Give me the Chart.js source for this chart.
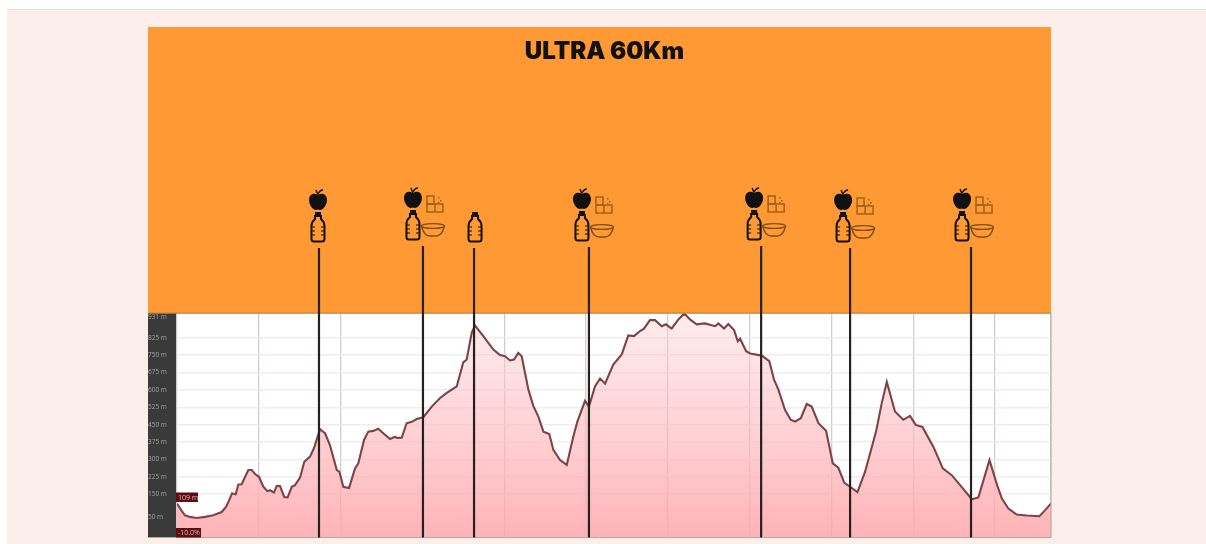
<!DOCTYPE html>
<html lang="en">
<head>
    <meta charset="UTF-8">
    <title>ULTRA 60Km</title>
    <script src="https://cdn.jsdelivr.net/npm/chart.js"></script>
    <style>
        html, body {
            margin: 0;
            padding: 0;
            background: #ffffff;
            overflow: hidden;
        }
        .page {
            position: absolute;
            left: 7px;
            top: 9px;
            width: 1199px;
            height: 535px;
            background: #fcefeb;
            border-top: 1px solid #eaded9;
            box-sizing: border-box;
        }
        #profile {
            position: absolute;
            left: 0;
            top: 0;
            filter: blur(0.45px);
        }
    </style>
</head>
<body>
    <div class="page"></div>
    <canvas id="profile" width="1206" height="544"></canvas>

    <script>
        const titleText = 'ULTRA 60Km';
        const gradeText = '-10.0%';

        // distance in km along the course
        const distance = [
            0.0, 0.29, 0.49, 0.80, 1.21, 1.72, 2.22, 2.74, 3.00, 3.20,
            3.37, 3.60, 3.76, 3.96, 4.37, 4.58, 4.78, 5.02, 5.29, 5.53,
            5.70, 5.94, 6.11, 6.31, 6.57, 6.78, 7.03, 7.23, 7.54, 7.80,
            8.15, 8.39, 8.76, 9.07, 9.37, 9.79, 9.95, 10.19, 10.54, 10.91,
            11.11, 11.46, 11.72, 12.03, 12.33, 12.64, 13.05, 13.36, 13.46, 13.77,
            14.07, 14.38, 14.69, 15.09, 15.61, 16.12, 16.53, 17.14, 17.54, 17.75,
            18.06, 18.26, 18.77, 19.38, 19.79, 20.10, 20.40, 20.65, 20.91, 21.12,
            21.53, 21.83, 22.14, 22.45, 22.81, 23.06, 23.47, 23.88, 24.28, 24.53,
            25.00, 25.24, 25.61, 25.92, 26.23, 26.73, 27.25, 27.65, 28.00, 28.37,
            28.61, 28.98, 29.29, 29.70, 29.95, 30.31, 30.72, 31.08, 31.43, 31.84,
            32.35, 32.97, 33.17, 33.52, 33.78, 34.13, 34.36, 34.50, 34.87, 35.11,
            35.83, 36.29, 36.58, 36.85, 37.25, 37.60, 37.87, 38.22, 38.58, 38.89,
            39.30, 39.77, 40.18, 40.52, 40.89, 41.24, 41.69, 42.16, 42.83, 43.18,
            43.49, 43.99, 44.50, 44.91, 45.26, 45.67, 46.34, 46.92, 47.47, 47.98,
            48.70, 49.10, 49.78, 50.27, 50.54, 50.94, 51.45, 52.07, 52.84, 53.19,
            53.54
        ];

        // elevation in metres at each distance
        const elevation = [
            109, 78, 59, 52, 47, 52, 59, 73, 95, 124,
            153, 150, 192, 193, 254, 254, 237, 225, 182, 163,
            167, 157, 186, 185, 138, 136, 182, 189, 222, 290,
            312, 348, 430, 413, 362, 254, 247, 182, 177, 261,
            283, 384, 420, 423, 432, 413, 388, 398, 393, 394,
            456, 462, 474, 482, 528, 565, 587, 615, 719, 731,
            847, 878, 832, 774, 750, 745, 727, 731, 760, 745,
            601, 531, 485, 420, 410, 341, 297, 276, 398, 463,
            553, 528, 615, 649, 627, 709, 753, 835, 832, 854,
            864, 901, 901, 875, 883, 865, 904, 930, 904, 883,
            887, 875, 887, 865, 884, 858, 810, 821, 767, 757,
            748, 724, 644, 601, 514, 471, 463, 478, 539, 528,
            456, 424, 283, 264, 199, 182, 159, 247, 420, 543,
            634, 507, 471, 488, 449, 440, 355, 261, 232, 189,
            128, 136, 297, 185, 131, 88, 62, 58, 55, 81,
            109
        ];

        const elevationTicks = [50, 150, 225, 300, 375, 450, 525, 600, 675, 750, 825, 931];

        // aid stations
        const stationKm = [8.70, 15.07, 18.20, 25.24, 35.79, 41.24, 48.65];
        const stationFood = ['fruit', 'full', 'water', 'full', 'full', 'full', 'full'];

        // icons are not quite lined up with their poles
        const iconShift = [-1, -10, 1, -7, -7, -7, -9];
        const iconLift = [0, 2, 0, 1, 2, 0, 1];
        const orange = '#ff9933';

        function drawApple(ctx, x, y) {
            ctx.fillStyle = '#111111';
            ctx.beginPath();
            ctx.moveTo(x, y - 6);
            ctx.bezierCurveTo(x + 5, y - 9, x + 9, y - 6, x + 9, y - 1);
            ctx.bezierCurveTo(x + 9, y + 4, x + 5, y + 9, x + 2, y + 9);
            ctx.quadraticCurveTo(x, y + 8, x - 2, y + 9);
            ctx.bezierCurveTo(x - 5, y + 9, x - 9, y + 4, x - 9, y - 1);
            ctx.bezierCurveTo(x - 9, y - 6, x - 5, y - 9, x, y - 6);
            ctx.fill();
            // leaf
            ctx.strokeStyle = '#111111';
            ctx.lineWidth = 1.4;
            ctx.beginPath();
            ctx.moveTo(x, y - 6);
            ctx.lineTo(x - 2, y - 11);
            ctx.moveTo(x, y - 7);
            ctx.quadraticCurveTo(x + 2, y - 11, x + 5, y - 11);
            ctx.stroke();
        }

        function drawBottle(ctx, x, top) {
            ctx.strokeStyle = '#111111';
            ctx.fillStyle = '#111111';
            ctx.fillRect(x - 3, top, 6, 4);
            ctx.lineWidth = 2;
            ctx.beginPath();
            ctx.moveTo(x - 3, top + 4);
            ctx.lineTo(x - 3, top + 7);
            ctx.quadraticCurveTo(x - 6.5, top + 10, x - 6.5, top + 14);
            ctx.lineTo(x - 6.5, top + 27);
            ctx.quadraticCurveTo(x - 6.5, top + 29.5, x - 4, top + 29.5);
            ctx.lineTo(x + 4, top + 29.5);
            ctx.quadraticCurveTo(x + 6.5, top + 29.5, x + 6.5, top + 27);
            ctx.lineTo(x + 6.5, top + 14);
            ctx.quadraticCurveTo(x + 6.5, top + 10, x + 3, top + 7);
            ctx.lineTo(x + 3, top + 4);
            ctx.closePath();
            ctx.stroke();
            // ribs
            ctx.lineWidth = 1.2;
            [15, 19, 23].forEach(d => {
                ctx.beginPath();
                ctx.moveTo(x - 6, top + d);
                ctx.lineTo(x - 3, top + d);
                ctx.moveTo(x + 3, top + d);
                ctx.lineTo(x + 6, top + d);
                ctx.stroke();
            });
        }

        function drawBowl(ctx, x, y) {
            ctx.strokeStyle = '#7f4e16';
            ctx.lineWidth = 1.4;
            ctx.beginPath();
            ctx.ellipse(x, y, 11.5, 2.4, 0, 0, Math.PI * 2);
            ctx.moveTo(x - 11.5, y);
            ctx.quadraticCurveTo(x - 9, y + 10, x - 3, y + 10);
            ctx.lineTo(x + 3, y + 10);
            ctx.quadraticCurveTo(x + 9, y + 10, x + 11.5, y);
            ctx.stroke();
        }

        function drawFood(ctx, x, y) {
            ctx.strokeStyle = '#a0621c';
            ctx.lineWidth = 1.5;
            ctx.strokeRect(x - 8, y + 1, 16, 8);
            ctx.beginPath();
            ctx.moveTo(x, y + 1);
            ctx.lineTo(x, y + 9);
            ctx.stroke();
            ctx.strokeRect(x - 8, y - 7, 7, 8);
            ctx.fillStyle = '#a0621c';
            ctx.fillRect(x + 3, y - 6, 1.5, 1.5);
            ctx.fillRect(x + 5, y - 3, 1.5, 1.5);
            ctx.fillRect(x + 3, y - 1, 1.5, 1.5);
        }

        const panelPlugin = {
            id: 'panel',
            afterLayout(chart) {
                // title sits a bit right of the panel centre
                chart.titleBlock.left += 10;
            },
            beforeDraw(chart) {
                const ctx = chart.ctx;
                const area = chart.chartArea;
                const axis = chart.scales.y;
                ctx.save();
                ctx.fillStyle = orange;
                ctx.fillRect(axis.left, 27, area.right - axis.left, area.top - 27);
                ctx.fillStyle = '#ffffff';
                ctx.fillRect(area.left, area.top, area.width, area.height);
                ctx.fillStyle = '#3a3a3a';
                ctx.fillRect(axis.left, area.top, area.left - axis.left, area.height);
                ctx.restore();
            },
            afterDatasetsDraw(chart) {
                const ctx = chart.ctx;
                const area = chart.chartArea;
                const x = chart.scales.x;
                const axis = chart.scales.y;
                ctx.save();

                // plot edges
                ctx.strokeStyle = '#b5a8a8';
                ctx.lineWidth = 1;
                ctx.beginPath();
                ctx.moveTo(axis.left, area.bottom);
                ctx.lineTo(area.right, area.bottom);
                ctx.lineTo(area.right, area.top);
                ctx.stroke();
                ctx.strokeStyle = '#a87a3c';
                ctx.beginPath();
                ctx.moveTo(axis.left, area.top);
                ctx.lineTo(area.right, area.top);
                ctx.stroke();

                // stations
                stationKm.forEach((km, i) => {
                    const px = x.getPixelForValue(km);
                    const lift = iconLift[i];
                    ctx.strokeStyle = '#26211f';
                    ctx.lineWidth = 2.2;
                    ctx.beginPath();
                    ctx.moveTo(px, 248 - lift);
                    ctx.lineTo(px, area.bottom);
                    ctx.stroke();

                    const ix = px + iconShift[i];
                    drawBottle(ctx, ix, 212 - lift);
                    if (stationFood[i] !== 'water') drawApple(ctx, ix, 201 - lift);
                    if (stationFood[i] === 'full') {
                        drawBowl(ctx, ix + 20, 228 - lift);
                        drawFood(ctx, ix + 22, 205 - lift);
                    }
                });

                // start elevation and grade badges
                ctx.font = '7px "Open Sans"';
                ctx.textBaseline = 'middle';
                ctx.textAlign = 'left';
                [[`${elevation[0]} m`, 492.5, 22], [gradeText, 528, 25]].forEach(([text, top, w]) => {
                    ctx.fillStyle = '#5e0c12';
                    ctx.fillRect(area.left - 1, top, w, 9.5);
                    ctx.fillStyle = '#e2b9b9';
                    ctx.fillText(text, area.left + 1, top + 5);
                });
                ctx.restore();
            }
        };

        new Chart(document.getElementById('profile').getContext('2d'), {
            type: 'line',
            data: {
                datasets: [{
                    label: 'Elevation',
                    data: distance.map((km, i) => ({ x: km, y: elevation[i] })),
                    borderColor: '#7d4448',
                    borderWidth: 2.1,
                    pointRadius: 0,
                    tension: 0,
                    fill: 'start',
                    backgroundColor: context => {
                        const area = context.chart.chartArea;
                        if (!area) return 'rgba(255, 180, 185, 0.5)';
                        const g = context.chart.ctx.createLinearGradient(0, area.top, 0, area.bottom);
                        g.addColorStop(0, 'rgba(253, 205, 210, 0.4)');
                        g.addColorStop(1, 'rgba(255, 165, 170, 0.85)');
                        return g;
                    }
                }]
            },
            plugins: [panelPlugin],
            options: {
                responsive: false,
                animation: false,
                layout: {
                    padding: { left: 148, right: 155, top: 27, bottom: 6.5 }
                },
                plugins: {
                    legend: { display: false },
                    tooltip: { enabled: false },
                    title: {
                        display: true,
                        text: titleText,
                        color: '#111111',
                        font: { family: 'Inter', size: 24, weight: '900', lineHeight: 1.3 },
                        padding: { top: 9, bottom: 246 }
                    }
                },
                scales: {
                    x: {
                        type: 'linear',
                        min: 0,
                        max: 53.55,
                        border: { display: false },
                        grid: { color: '#d2cdcd', lineWidth: 1.3, drawTicks: false },
                        ticks: { display: false, stepSize: 5.012 }
                    },
                    y: {
                        min: -37,
                        max: 931,
                        afterFit(scale) { scale.width = 29; },
                        afterBuildTicks(scale) {
                            scale.ticks = elevationTicks.map(value => ({ value }));
                        },
                        border: { display: false },
                        grid: {
                            drawTicks: false,
                            lineWidth: 1.5,
                            color: c => (c.tick.value === 50 || c.tick.value === 931) ? 'transparent' : 'rgba(240, 232, 236, 0.85)'
                        },
                        ticks: {
                            crossAlign: 'far',
                            color: '#a3a3a3',
                            font: { family: 'Open Sans', size: 6.5 },
                            padding: 0,
                            autoSkip: false,
                            // the top label hangs below the plot edge
                            callback: v => v === 931 ? ['', v + ' m'] : v + ' m'
                        }
                    }
                }
            }
        });
    </script>
</body>
</html>
